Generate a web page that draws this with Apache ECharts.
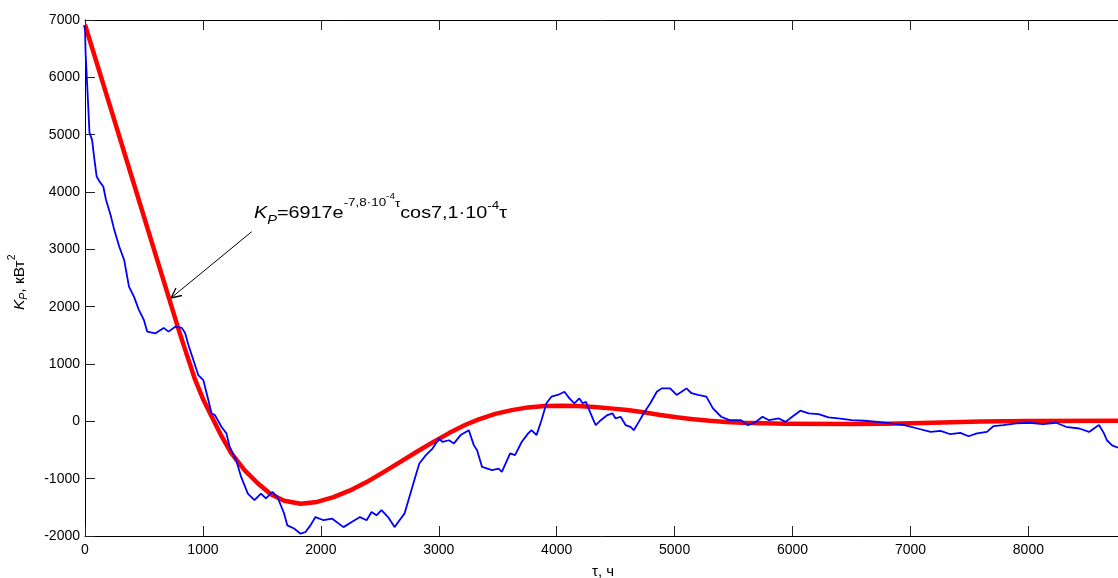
<!DOCTYPE html>
<html><head><meta charset="utf-8">
<script src="https://cdn.jsdelivr.net/npm/echarts@6/dist/echarts.min.js"></script>
<style>html,body{margin:0;padding:0;background:#fff}#c{width:1118px;height:578px}</style>
</head><body><div id="c"></div>
<script>
// ---- data ----
const blueT = [0,5,15,38,60,80,99,122,155,178,220,248,290,332,373,415,457,499,527,598,667,709,765,821,849,877,919,961,1003,1040,1073,1101,1157,1199,1227,1282,1324,1381,1437,1492,1534,1590,1632,1689,1716,1773,1828,1870,1912,1954,2024,2094,2192,2262,2332,2388,2430,2472,2514,2570,2625,2667,2709,2751,2793,2835,2891,2947,3003,3031,3087,3129,3185,3255,3297,3325,3367,3451,3507,3535,3605,3647,3703,3758,3787,3829,3871,3913,3955,4010,4066,4108,4150,4192,4220,4248,4276,4318,4332,4374,4430,4472,4500,4542,4584,4626,4654,4696,4738,4794,4849,4891,4962,5017,5059,5101,5143,5199,5269,5325,5395,5465,5563,5619,5661,5689,5745,5801,5885,5940,5997,6066,6137,6221,6305,6389,6501,6612,6724,6836,6948,7060,7171,7255,7339,7423,7493,7564,7648,7703,7787,7899,8011,8123,8235,8319,8431,8515,8571,8599,8641,8666,8710,8760];
const blueV = [6900,6430,6020,5035,4910,4565,4270,4185,4095,3865,3575,3340,3050,2815,2350,2175,1945,1770,1565,1535,1630,1565,1650,1630,1540,1330,1070,805,720,420,140,110,-95,-210,-445,-680,-970,-1260,-1375,-1260,-1345,-1230,-1320,-1610,-1815,-1870,-1960,-1930,-1815,-1670,-1725,-1695,-1845,-1755,-1670,-1725,-1580,-1640,-1550,-1670,-1845,-1725,-1610,-1320,-1025,-735,-590,-475,-300,-360,-330,-385,-240,-155,-415,-505,-795,-850,-825,-880,-560,-590,-360,-210,-155,-240,20,315,430,460,515,400,315,400,315,340,195,-10,-65,20,110,140,50,80,-65,-95,-155,-10,140,315,515,575,575,460,515,575,490,460,430,225,80,20,20,-65,-35,-10,80,20,50,-10,80,185,140,125,70,50,20,10,-10,-35,-65,-125,-185,-165,-225,-200,-260,-210,-185,-85,-65,-35,-25,-50,-25,-95,-125,-185,-105,-65,-210,-330,-420,-460];
const redT = [0,200,400,600,800,870,933,1003,1073,1157,1240,1353,1465,1576,1689,1828,1968,2108,2248,2388,2528,2667,2807,2947,3087,3227,3339,3479,3619,3758,3898,4039,4178,4318,4458,4598,4738,4878,5017,5157,5298,5437,5577,5940,6500,6800,7100,7600,8000,8760];
const redV = [6917,5580,4240,2900,1560,1120,730,380,90,-255,-555,-850,-1080,-1270,-1385,-1437,-1406,-1322,-1205,-1060,-890,-715,-540,-368,-205,-60,35,130,196,243,266,271,266,248,226,196,158,112,70,38,10,-10,-25,-40,-45,-40,-30,-5,5,10];
const xRange = [0, 8760];
const yRange = [-2000, 7000];
const tickStep = 1000;

// ---- helpers ----
const FONT = '"Liberation Sans", Arial, sans-serif';
const mctx = document.createElement('canvas').getContext('2d');
function tw(t, size, italic){ mctx.font = (italic?'italic ':'') + size + 'px ' + FONT; return mctx.measureText(t).width; }
function layoutPieces(pieces){
  let x = 0; const out = [];
  pieces.forEach(p => {
    out.push({type:'text', x: x + (p.dx||0), y: (p.dy||0) - 0.35*p.size,
      style:{text:p.t, fontSize:p.size, fontFamily:FONT, fontStyle:p.it?'italic':'normal', fill:'#000', verticalAlign:'middle', align:'left'}});
    x += tw(p.t, p.size, p.it) + (p.dx||0);
  });
  return {children: out, width: x};
}

const chart = echarts.init(document.getElementById('c'));

const annPieces = [
  {t:'K', size:17, it:true},
  {t:'P', size:12.5, it:true, dy:6},
  {t:'=6917e', size:17},
  {t:'-7,8\u00b710', size:11.5, dy:-12},
  {t:'-4', size:8.5, dy:-19},
  {t:'\u03c4', size:11.5, dy:-11},
  {t:'cos7,1\u00b710', size:17},
  {t:'-4', size:11.5, dy:-9},
  {t:'\u03c4', size:17}
];
const ann = layoutPieces(annPieces);
const annScale = (507 - 254) / ann.width;

const ylabPieces = [
  {t:'K', size:15.5, it:true},
  {t:'P', size:10.5, it:true, dy:3},
  {t:', \u043a\u0412\u0442', size:15.5},
  {t:'2', size:10.5, dy:-9}
];
const ylab = layoutPieces(ylabPieces);

const axisCommon = {
  type:'value', splitLine:{show:false},
  axisLine:{show:true, onZero:false, lineStyle:{color:'#000', width:1}},
  axisTick:{show:true, inside:true, length:10, lineStyle:{color:'#222', width:1}},
  axisLabel:{color:'#000', fontSize:14, fontFamily:FONT, formatter: v => String(v)}
};

chart.setOption({
  animation:false,
  backgroundColor:'#fff',
  grid:{left:85, right:-11, top:20, bottom:42},
  xAxis:[
    Object.assign({}, axisCommon, {min:xRange[0], max:xRange[1], interval:tickStep, position:'bottom',
      axisLabel:Object.assign({}, axisCommon.axisLabel, {margin:7, showMaxLabel:false})}),
    Object.assign({}, axisCommon, {min:xRange[0], max:xRange[1], interval:tickStep, position:'top',
      axisLabel:{show:false}})
  ],
  yAxis:[
    Object.assign({}, axisCommon, {min:yRange[0], max:yRange[1], interval:tickStep, position:'left',
      axisLabel:Object.assign({}, axisCommon.axisLabel, {margin:5})})
  ],
  series:[
    {type:'line', name:'fit', xAxisIndex:0, yAxisIndex:0, showSymbol:false, smooth:false,
     data: redT.map((t,i)=>[t, redV[i]]), lineStyle:{color:'#ff0000', width:4.5, join:'round'}, z:2},
    {type:'line', name:'measured', xAxisIndex:0, yAxisIndex:0, showSymbol:false, smooth:false,
     data: blueT.map((t,i)=>[t, blueV[i]]), lineStyle:{color:'#0000ff', width:1.8}, z:3}
  ],
  graphic:[
    {type:'group', x:254, y:219, scaleX:annScale, children: ann.children},
    {type:'polyline', shape:{points:[[251.7,231.7],[171,298]]}, style:{stroke:'#000', lineWidth:1, fill:null}},
    {type:'polyline', shape:{points:[[182,295.5],[171,298],[176,288]]}, style:{stroke:'#000', lineWidth:1.3, fill:null}},
    {type:'group', x:25, y:310, rotation:Math.PI/2, children: ylab.children},
    {type:'text', x:603, y:572, style:{text:'\u03c4, \u0447', fontSize:15, fontFamily:FONT, fill:'#000', align:'center', verticalAlign:'middle'}}
  ]
});
</script>
</body></html>
